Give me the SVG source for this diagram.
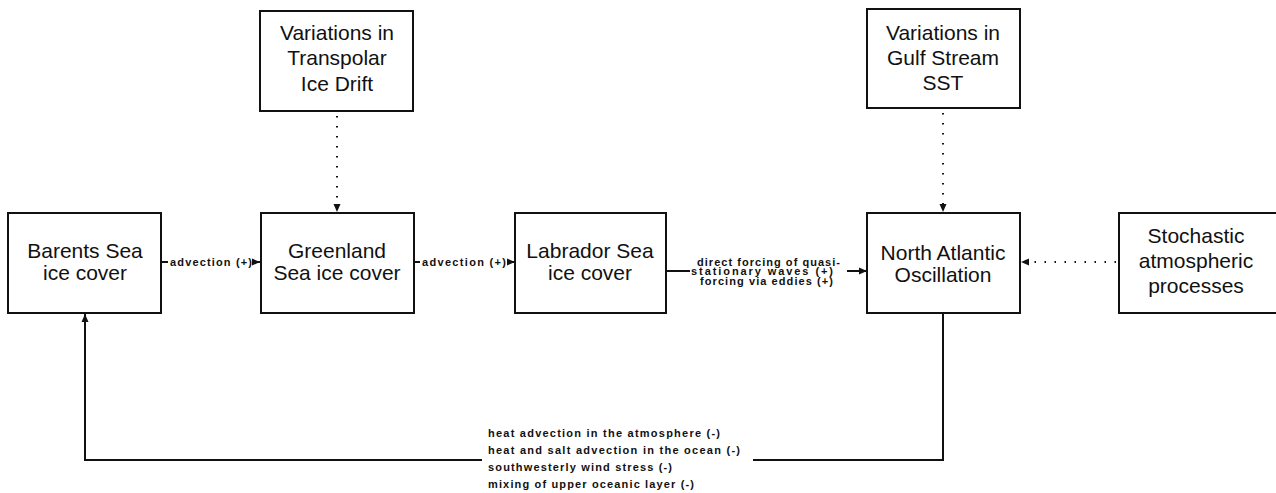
<svg xmlns="http://www.w3.org/2000/svg" width="1276" height="493" viewBox="0 0 1276 493">
<style>
.box{fill:#fff;stroke:#111;stroke-width:2}
.t{font-family:"Liberation Sans",Arial,sans-serif;font-size:21px;fill:#111;text-anchor:middle}
.s{font-family:"Liberation Sans",Arial,sans-serif;font-size:11px;font-weight:bold;fill:#111}
.ln{fill:none;stroke:#111;stroke-width:2}
.dot{fill:none;stroke:#111;stroke-width:2;stroke-dasharray:1.5 8.5}
</style>
<defs>
<marker id="ah" viewBox="0 0 8 8" refX="8" refY="4" markerWidth="8" markerHeight="8" markerUnits="userSpaceOnUse" orient="auto">
<path d="M0,0.5 L8,4 L0,7.5 Z" fill="#111"/>
</marker>
</defs>
<rect width="1276" height="493" fill="#fff"/>
<g id="connectors">
<line class="ln" x1="162" y1="262" x2="168" y2="262"/>
<line class="ln" x1="254" y1="262" x2="260" y2="262" marker-end="url(#ah)"/>
<text class="s" x="170" y="265.5" textLength="82">advection (+)</text>
<line class="ln" x1="414" y1="262" x2="420" y2="262"/>
<line class="ln" x1="508" y1="262" x2="515" y2="262" marker-end="url(#ah)"/>
<text class="s" x="422" y="265.5" textLength="84">advection (+)</text>
<line class="ln" x1="666" y1="271" x2="690" y2="271"/>
<line class="ln" x1="847" y1="271" x2="867" y2="271" marker-end="url(#ah)"/>
<text class="s" x="697" y="265.5" textLength="143">direct forcing of quasi-</text>
<text class="s" x="691" y="275" textLength="142">stationary waves (+)</text>
<text class="s" x="700" y="284.5" textLength="133">forcing via eddies (+)</text>
<line class="dot" x1="337" y1="116" x2="337" y2="212" marker-end="url(#ah)"/>
<line class="dot" x1="943" y1="113" x2="943" y2="212" marker-end="url(#ah)"/>
<line class="dot" x1="1116" y1="262" x2="1021" y2="262" marker-end="url(#ah)"/>
<polyline class="ln" points="943,313 943,460 753,460"/>
<polyline class="ln" points="482,460 85,460 85,314" marker-end="url(#ah)"/>
<text class="s" x="488" y="436.5" textLength="232">heat advection in the atmosphere (-)</text>
<text class="s" x="488" y="453.5" textLength="252">heat and salt advection in the ocean (-)</text>
<text class="s" x="488" y="471" textLength="184">southwesterly wind stress (-)</text>
<text class="s" x="488" y="488" textLength="206">mixing of upper oceanic layer (-)</text>
</g>
<g id="barents">
<rect class="box" x="8" y="213" width="153" height="100"/>
<text class="t" x="85" y="258">Barents Sea</text>
<text class="t" x="85" y="280">ice cover</text>
</g>
<g id="greenland">
<rect class="box" x="261" y="213" width="153" height="100"/>
<text class="t" x="337" y="258">Greenland</text>
<text class="t" x="337" y="280">Sea ice cover</text>
</g>
<g id="labrador">
<rect class="box" x="515" y="213" width="151" height="100"/>
<text class="t" x="590" y="258">Labrador Sea</text>
<text class="t" x="590" y="280">ice cover</text>
</g>
<g id="nao">
<rect class="box" x="867" y="213" width="153" height="100"/>
<text class="t" x="943" y="260">North Atlantic</text>
<text class="t" x="943" y="282">Oscillation</text>
</g>
<g id="stochastic">
<rect class="box" x="1119" y="213" width="160" height="100"/>
<text class="t" x="1196" y="243">Stochastic</text>
<text class="t" x="1196" y="268">atmospheric</text>
<text class="t" x="1196" y="293">processes</text>
</g>
<g id="transpolar">
<rect class="box" x="260" y="11" width="153" height="100"/>
<text class="t" x="337" y="40">Variations in</text>
<text class="t" x="337" y="65">Transpolar</text>
<text class="t" x="337" y="91">Ice Drift</text>
</g>
<g id="gulfstream">
<rect class="box" x="867" y="9" width="153" height="99"/>
<text class="t" x="943" y="40">Variations in</text>
<text class="t" x="943" y="65">Gulf Stream</text>
<text class="t" x="943" y="90">SST</text>
</g>
</svg>
